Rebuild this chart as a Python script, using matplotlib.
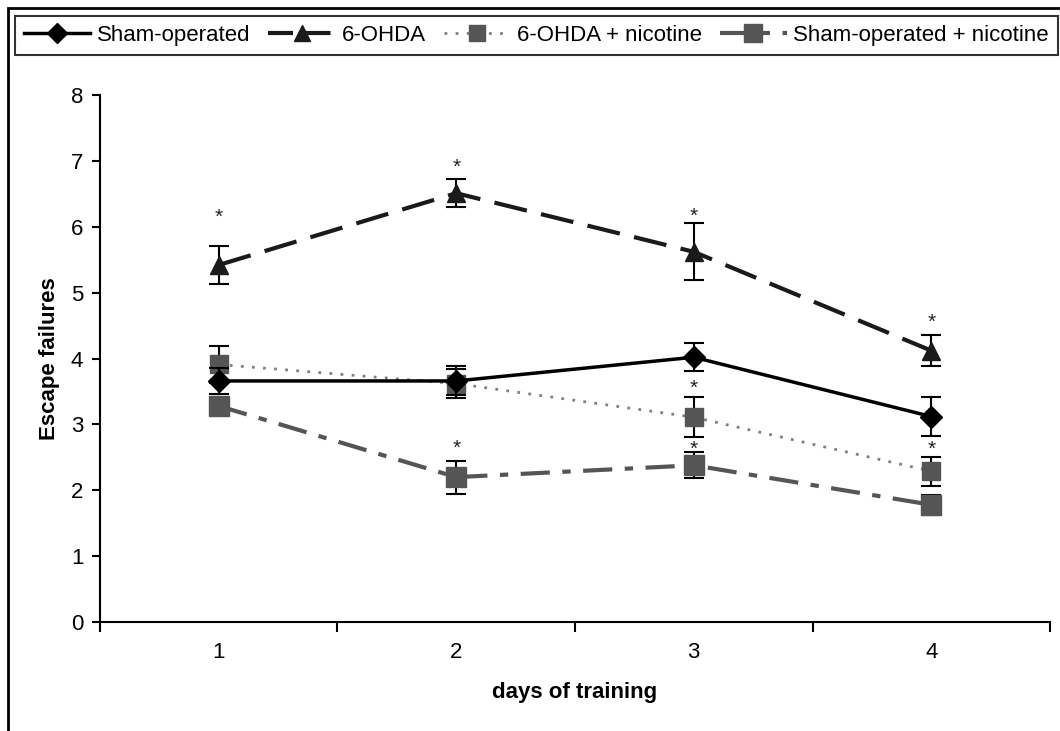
import numpy as np
import matplotlib
matplotlib.use("Agg")
import matplotlib.pyplot as plt
from matplotlib.lines import Line2D
from matplotlib.patches import Rectangle

plt.rcParams['font.family'] = ['Liberation Sans', 'DejaVu Sans']

days = [1, 2, 3, 4]
labels = ["Sham-operated", "6-OHDA", "6-OHDA + nicotine", "Sham-operated + nicotine"]

sham = [3.66, 3.66, 4.02, 3.12]
sham_err = [0.2, 0.22, 0.21, 0.29]
ohda = [5.42, 6.51, 5.62, 4.12]
ohda_err = [0.29, 0.21, 0.43, 0.23]
ohda_nic = [3.91, 3.62, 3.11, 2.29]
ohda_nic_err = [0.28, 0.22, 0.3, 0.22]
sham_nic = [3.28, 2.2, 2.38, 1.78]
sham_nic_err = [0.12, 0.25, 0.2, 0.15]

# asterisks: (day, height)
stars = [(1, 6.15), (2, 6.9), (3, 6.16), (4, 4.55),
         (3, 3.55), (4, 2.62), (2, 2.64), (3, 2.62)]

fig = plt.figure(figsize=(10.6, 7.31), dpi=100)
ax = fig.add_axes([0.0943, 0.149, 0.8963, 0.721])

x = np.array(days)
ax.errorbar(x, sham, yerr=sham_err, color="black", lw=2.5, marker="D", ms=11,
            capsize=7, elinewidth=1.5, capthick=1.5, ecolor="black", zorder=5)
ax.errorbar(x, ohda, yerr=ohda_err, color="#1a1a1a", lw=3, ls=(0, (8, 3.5)), marker="^", ms=13,
            capsize=7, elinewidth=1.5, capthick=1.5, ecolor="black", zorder=4)
ax.errorbar(x, ohda_nic, yerr=ohda_nic_err, color="#808080", lw=2, ls=(0, (1, 3)), marker="s", ms=13,
            mfc="#555555", mec="#555555", capsize=7, elinewidth=1.5, capthick=1.5, ecolor="black", zorder=3)
ax.errorbar(x, sham_nic, yerr=sham_nic_err, color="#555555", lw=3, ls=(0, (7, 3, 2, 3)), marker="s", ms=15,
            mfc="#555555", mec="#555555", capsize=7, elinewidth=1.5, capthick=1.5, ecolor="black", zorder=3)

for d, h in stars:
    ax.text(d, h, "*", ha="center", va="center", fontsize=15, color="#222222")

ax.set_xlim(0.5, 4.5)
ax.set_ylim(0, 8)
ax.set_xticks(days)
ax.set_xticks([0.5, 1.5, 2.5, 3.5, 4.5], minor=True)
ax.tick_params(axis="x", which="major", length=0, labelsize=16, pad=14)
ax.tick_params(axis="x", which="minor", length=7, width=1.5, direction="out")
ax.tick_params(axis="y", length=6, width=1.5, labelsize=16, pad=6)
ax.set_yticks(range(0, 9))
for s in ["top", "right"]:
    ax.spines[s].set_visible(False)
for s in ["left", "bottom"]:
    ax.spines[s].set_linewidth(1.5)

ax.set_xlabel("days of training", fontsize=16, fontweight="bold", labelpad=14)
ax.set_ylabel("Escape failures", fontsize=16, fontweight="bold", labelpad=8)

handles = [
    Line2D([], [], color="black", lw=2.5, marker="D", ms=10),
    Line2D([], [], color="#1a1a1a", lw=3, ls=(0, (6, 3)), marker="^", ms=12),
    Line2D([], [], color="#808080", lw=2, ls=(0, (1, 3)), marker="s", ms=12, mfc="#555555", mec="#555555"),
    Line2D([], [], color="#555555", lw=3, ls=(0, (7, 3, 2, 3)), marker="s", ms=13, mfc="#555555", mec="#555555"),
]
leg = fig.legend(handles, labels, loc="lower left", bbox_to_anchor=(0.014, 0.925, 0.984, 0.058),
                 mode="expand", ncol=4, fontsize=16, frameon=True, fancybox=False, edgecolor="black",
                 numpoints=1, handlelength=3, handletextpad=0.3, columnspacing=0.5, borderaxespad=0)
leg.get_frame().set_linewidth(1.5)

# outer frame
fig.patches.append(Rectangle((0.0075, -0.1), 1.2, 1.089, transform=fig.transFigure,
                             fill=False, edgecolor="black", lw=2))

fig.savefig("out.png", dpi=100)
